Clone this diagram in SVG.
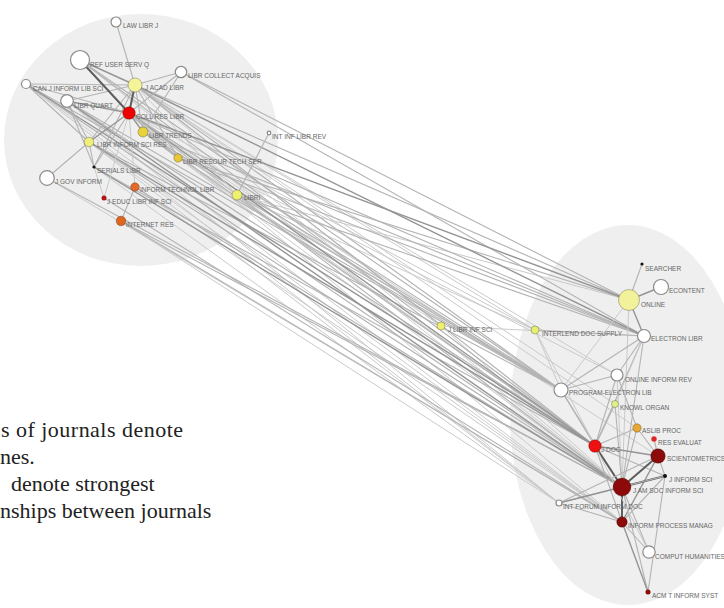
<svg xmlns="http://www.w3.org/2000/svg" width="724" height="608" viewBox="0 0 724 608">
<style>
.bg{fill:#efefef;stroke:none}
.e1{stroke:#cacaca;stroke-width:1;fill:none}
.e2{stroke:#b3b3b3;stroke-width:1.1;fill:none}
.e3{stroke:#959595;stroke-width:1.4;fill:none}
.e4{stroke:#5e5e5e;stroke-width:2;fill:none}
.nd{stroke:#8a8a8a;stroke-width:1.2}
.op{fill:#ffffff}
.cn{stroke:rgba(0,0,0,0.25);stroke-width:1}
.lb{font-family:"Liberation Sans",Arial,sans-serif;font-size:6.5px;fill:#666}
.tx{font-family:"Liberation Serif","Times New Roman",serif;font-size:22px;fill:#222}
</style>
<rect width="724" height="608" fill="#ffffff"/>
<g id="clusters">
<ellipse class="bg" cx="141" cy="140" rx="137" ry="126"/>
<ellipse class="bg" cx="628" cy="415" rx="118" ry="190"/>
</g>
<g id="connectors">
<line class="e1" x1="26" y1="84" x2="622" y2="522"/>
<line class="e1" x1="67" y1="101" x2="622" y2="522"/>
<line class="e1" x1="67" y1="101" x2="559" y2="503"/>
<line class="e1" x1="129" y1="113" x2="622" y2="522"/>
<line class="e1" x1="129" y1="113" x2="658" y2="456"/>
<line class="e1" x1="89" y1="142" x2="622" y2="522"/>
<line class="e1" x1="89" y1="142" x2="559" y2="503"/>
<line class="e1" x1="135" y1="85" x2="617" y2="375"/>
<line class="e1" x1="135" y1="85" x2="637" y2="428"/>
<line class="e1" x1="143" y1="132" x2="617" y2="375"/>
<line class="e1" x1="178" y1="158" x2="561" y2="390"/>
<line class="e1" x1="178" y1="158" x2="595" y2="446"/>
<line class="e1" x1="237" y1="195" x2="629" y2="300"/>
<line class="e1" x1="237" y1="195" x2="535" y2="330"/>
<line class="e1" x1="237" y1="195" x2="595" y2="446"/>
<line class="e1" x1="441" y1="326" x2="129" y2="113"/>
<line class="e1" x1="441" y1="326" x2="622" y2="487"/>
<line class="e1" x1="441" y1="326" x2="644" y2="336"/>
<line class="e1" x1="441" y1="326" x2="135" y2="85"/>
<line class="e1" x1="535" y1="330" x2="135" y2="85"/>
<line class="e1" x1="535" y1="330" x2="129" y2="113"/>
<line class="e1" x1="47" y1="178" x2="622" y2="522"/>
<line class="e1" x1="135" y1="187" x2="622" y2="522"/>
<line class="e1" x1="94" y1="167" x2="559" y2="503"/>
<line class="e1" x1="121" y1="221" x2="559" y2="503"/>
<line class="e1" x1="26" y1="84" x2="559" y2="503"/>
<line class="e1" x1="143" y1="132" x2="622" y2="487"/>
<line class="e1" x1="80" y1="60" x2="622" y2="487"/>
<line class="e1" x1="135" y1="85" x2="622" y2="487"/>
<line class="e1" x1="135" y1="85" x2="615" y2="404"/>
<line class="e2" x1="26" y1="84" x2="622" y2="487"/>
<line class="e2" x1="26" y1="84" x2="561" y2="390"/>
<line class="e2" x1="67" y1="101" x2="595" y2="446"/>
<line class="e2" x1="67" y1="101" x2="561" y2="390"/>
<line class="e2" x1="129" y1="113" x2="622" y2="487"/>
<line class="e2" x1="129" y1="113" x2="561" y2="390"/>
<line class="e2" x1="129" y1="113" x2="644" y2="336"/>
<line class="e2" x1="135" y1="85" x2="629" y2="300"/>
<line class="e2" x1="135" y1="85" x2="561" y2="390"/>
<line class="e2" x1="135" y1="85" x2="595" y2="446"/>
<line class="e2" x1="143" y1="132" x2="595" y2="446"/>
<line class="e2" x1="143" y1="132" x2="561" y2="390"/>
<line class="e2" x1="143" y1="132" x2="644" y2="336"/>
<line class="e2" x1="89" y1="142" x2="622" y2="487"/>
<line class="e2" x1="89" y1="142" x2="561" y2="390"/>
<line class="e2" x1="94" y1="167" x2="595" y2="446"/>
<line class="e2" x1="80" y1="60" x2="595" y2="446"/>
<line class="e2" x1="80" y1="60" x2="561" y2="390"/>
<line class="e2" x1="178" y1="158" x2="629" y2="300"/>
<line class="e2" x1="178" y1="158" x2="644" y2="336"/>
<line class="e2" x1="181" y1="72" x2="629" y2="300"/>
<line class="e2" x1="181" y1="72" x2="644" y2="336"/>
<line class="e2" x1="237" y1="195" x2="644" y2="336"/>
<line class="e2" x1="237" y1="195" x2="561" y2="390"/>
<line class="e2" x1="47" y1="178" x2="622" y2="487"/>
<line class="e2" x1="135" y1="187" x2="622" y2="487"/>
<line class="e2" x1="121" y1="221" x2="622" y2="487"/>
<line class="e2" x1="121" y1="221" x2="622" y2="522"/>
<line class="e2" x1="104" y1="198" x2="622" y2="522"/>
<line class="e3" x1="129" y1="113" x2="595" y2="446"/>
<line class="e3" x1="89" y1="142" x2="595" y2="446"/>
<line class="e3" x1="67" y1="101" x2="622" y2="487"/>
<line class="e3" x1="26" y1="84" x2="595" y2="446"/>
<line class="e3" x1="135" y1="85" x2="644" y2="336"/>
<line class="e3" x1="129" y1="113" x2="629" y2="300"/>
<line class="e3" x1="94" y1="167" x2="622" y2="487"/>
<line class="e2" x1="135" y1="85" x2="116" y2="22"/>
<line class="e3" x1="135" y1="85" x2="80" y2="60"/>
<line class="e2" x1="135" y1="85" x2="181" y2="72"/>
<line class="e2" x1="135" y1="85" x2="26" y2="84"/>
<line class="e2" x1="135" y1="85" x2="67" y2="101"/>
<line class="e4" x1="135" y1="85" x2="129" y2="113"/>
<line class="e2" x1="135" y1="85" x2="143" y2="132"/>
<line class="e2" x1="135" y1="85" x2="89" y2="142"/>
<line class="e2" x1="135" y1="85" x2="178" y2="158"/>
<line class="e2" x1="135" y1="85" x2="94" y2="167"/>
<line class="e4" x1="80" y1="60" x2="129" y2="113"/>
<line class="e2" x1="181" y1="72" x2="129" y2="113"/>
<line class="e2" x1="181" y1="72" x2="143" y2="132"/>
<line class="e3" x1="67" y1="101" x2="129" y2="113"/>
<line class="e2" x1="67" y1="101" x2="94" y2="167"/>
<line class="e2" x1="67" y1="101" x2="89" y2="142"/>
<line class="e2" x1="26" y1="84" x2="129" y2="113"/>
<line class="e2" x1="26" y1="84" x2="89" y2="142"/>
<line class="e3" x1="129" y1="113" x2="143" y2="132"/>
<line class="e3" x1="129" y1="113" x2="89" y2="142"/>
<line class="e2" x1="129" y1="113" x2="178" y2="158"/>
<line class="e2" x1="129" y1="113" x2="94" y2="167"/>
<line class="e1" x1="129" y1="113" x2="135" y2="187"/>
<line class="e2" x1="89" y1="142" x2="47" y2="178"/>
<line class="e2" x1="89" y1="142" x2="94" y2="167"/>
<line class="e2" x1="143" y1="132" x2="178" y2="158"/>
<line class="e1" x1="104" y1="198" x2="129" y2="113"/>
<line class="e2" x1="135" y1="187" x2="121" y2="221"/>
<line class="e1" x1="94" y1="167" x2="104" y2="198"/>
<line class="e2" x1="269" y1="133" x2="237" y2="195"/>
<line class="e1" x1="237" y1="195" x2="129" y2="113"/>
<line class="e1" x1="237" y1="195" x2="135" y2="85"/>
<line class="e2" x1="642" y1="264" x2="629" y2="300"/>
<line class="e3" x1="629" y1="300" x2="661" y2="287"/>
<line class="e3" x1="629" y1="300" x2="644" y2="336"/>
<line class="e1" x1="629" y1="300" x2="622" y2="487"/>
<line class="e1" x1="629" y1="300" x2="561" y2="390"/>
<line class="e2" x1="644" y1="336" x2="561" y2="390"/>
<line class="e2" x1="644" y1="336" x2="617" y2="375"/>
<line class="e2" x1="644" y1="336" x2="535" y2="330"/>
<line class="e2" x1="644" y1="336" x2="595" y2="446"/>
<line class="e2" x1="644" y1="336" x2="622" y2="487"/>
<line class="e1" x1="644" y1="336" x2="615" y2="404"/>
<line class="e2" x1="617" y1="375" x2="561" y2="390"/>
<line class="e2" x1="617" y1="375" x2="595" y2="446"/>
<line class="e2" x1="617" y1="375" x2="637" y2="428"/>
<line class="e1" x1="617" y1="375" x2="622" y2="487"/>
<line class="e2" x1="561" y1="390" x2="595" y2="446"/>
<line class="e2" x1="561" y1="390" x2="622" y2="487"/>
<line class="e2" x1="615" y1="404" x2="595" y2="446"/>
<line class="e2" x1="615" y1="404" x2="622" y2="487"/>
<line class="e2" x1="637" y1="428" x2="595" y2="446"/>
<line class="e2" x1="637" y1="428" x2="622" y2="487"/>
<line class="e2" x1="637" y1="428" x2="658" y2="456"/>
<line class="e2" x1="654" y1="439" x2="658" y2="456"/>
<line class="e4" x1="595" y1="446" x2="622" y2="487"/>
<line class="e3" x1="595" y1="446" x2="658" y2="456"/>
<line class="e2" x1="595" y1="446" x2="665" y2="476"/>
<line class="e2" x1="595" y1="446" x2="622" y2="522"/>
<line class="e4" x1="658" y1="456" x2="622" y2="487"/>
<line class="e2" x1="658" y1="456" x2="665" y2="476"/>
<line class="e3" x1="658" y1="456" x2="622" y2="522"/>
<line class="e4" x1="665" y1="476" x2="622" y2="487"/>
<line class="e2" x1="665" y1="476" x2="559" y2="503"/>
<line class="e2" x1="665" y1="476" x2="648" y2="592"/>
<line class="e2" x1="665" y1="476" x2="622" y2="522"/>
<line class="e3" x1="622" y1="487" x2="559" y2="503"/>
<line class="e4" x1="622" y1="487" x2="622" y2="522"/>
<line class="e2" x1="622" y1="487" x2="648" y2="592"/>
<line class="e2" x1="622" y1="487" x2="649" y2="552"/>
<line class="e2" x1="559" y1="503" x2="622" y2="522"/>
<line class="e2" x1="559" y1="503" x2="658" y2="456"/>
<line class="e3" x1="622" y1="522" x2="648" y2="592"/>
<line class="e2" x1="622" y1="522" x2="649" y2="552"/>
<line class="e1" x1="595" y1="446" x2="649" y2="552"/>
<line class="e1" x1="535" y1="330" x2="595" y2="446"/>
<line class="e1" x1="535" y1="330" x2="561" y2="390"/>
</g>
<g id="n-law-libr-j"><circle class="nd op" cx="116" cy="22" r="5"/><text class="lb" x="123" y="28">LAW LIBR J</text></g>
<g id="n-ref-user-serv-q"><circle class="nd op" cx="80" cy="60" r="9.5"/><text class="lb" x="90" y="67">REF USER SERV Q</text></g>
<g id="n-libr-collect-acquis"><circle class="nd op" cx="181" cy="72" r="5.7"/><text class="lb" x="188" y="78">LIBR COLLECT ACQUIS</text></g>
<g id="n-can-j-inform-lib-sci"><circle class="nd op" cx="26" cy="84" r="4.5"/><text class="lb" x="33" y="91">CAN J INFORM LIB SCI</text></g>
<g id="n-j-acad-libr"><circle class="cn" fill="#f4f49a" cx="135" cy="85" r="7"/><text class="lb" x="145" y="90">J ACAD LIBR</text></g>
<g id="n-libr-quart"><circle class="nd op" cx="67" cy="101" r="6.3"/><text class="lb" x="74" y="108">LIBR QUART</text></g>
<g id="n-coll-res-libr"><circle class="cn" fill="#ee0000" cx="129" cy="113" r="6.3"/><text class="lb" x="136" y="119">COLL RES LIBR</text></g>
<g id="n-libr-trends"><circle class="cn" fill="#e8d23c" cx="143" cy="132" r="5"/><text class="lb" x="149" y="138">LIBR TRENDS</text></g>
<g id="n-libr-inform-sci-res"><circle class="cn" fill="#eef07a" cx="89" cy="142" r="4.8"/><text class="lb" x="97" y="147">LIBR INFORM SCI RES</text></g>
<g id="n-libr-resour-tech-ser"><circle class="cn" fill="#e8c83a" cx="178" cy="158" r="4.2"/><text class="lb" x="183" y="164">LIBR RESOUR TECH SER</text></g>
<g id="n-int-inf-libr-rev"><circle class="nd op" cx="269" cy="133" r="1.8"/><text class="lb" x="272" y="139">INT INF LIBR REV</text></g>
<g id="n-j-gov-inform"><circle class="nd op" cx="47" cy="178" r="7.3"/><text class="lb" x="55" y="184">J GOV INFORM</text></g>
<g id="n-serials-libr"><circle fill="#111" cx="94" cy="167" r="1.6"/><text class="lb" x="97" y="173">SERIALS LIBR</text></g>
<g id="n-inform-technol-libr"><circle class="cn" fill="#e8682a" cx="135" cy="187" r="4.3"/><text class="lb" x="140" y="192">INFORM TECHNOL LIBR</text></g>
<g id="n-j-educ-libr-inf-sci"><circle fill="#b01515" cx="104" cy="198" r="2.5"/><text class="lb" x="107" y="204">J EDUC LIBR INF SCI</text></g>
<g id="n-internet-res"><circle class="cn" fill="#e0661f" cx="121" cy="221" r="4.8"/><text class="lb" x="126" y="227">INTERNET RES</text></g>
<g id="n-libri"><circle class="cn" fill="#eef070" cx="237" cy="195" r="5"/><text class="lb" x="244" y="200">LIBRI</text></g>
<g id="n-j-libr-inf-sci"><circle class="cn" fill="#eef070" cx="441" cy="326" r="4"/><text class="lb" x="448" y="332">J LIBR INF SCI</text></g>
<g id="n-interlend-doc-supply"><circle class="cn" fill="#e6f070" cx="535" cy="330" r="4"/><text class="lb" x="542" y="336">INTERLEND DOC SUPPLY</text></g>
<g id="n-searcher"><circle fill="#111" cx="642" cy="264" r="1.6"/><text class="lb" x="645" y="271">SEARCHER</text></g>
<g id="n-online"><circle class="cn" fill="#f2f29a" cx="629" cy="300" r="10.5"/><text class="lb" x="641" y="307">ONLINE</text></g>
<g id="n-econtent"><circle class="nd op" cx="661" cy="287" r="7.5"/><text class="lb" x="669" y="293">ECONTENT</text></g>
<g id="n-electron-libr"><circle class="nd op" cx="644" cy="336" r="6.5"/><text class="lb" x="651" y="341">ELECTRON LIBR</text></g>
<g id="n-online-inform-rev"><circle class="nd op" cx="617" cy="375" r="6"/><text class="lb" x="625" y="382">ONLINE INFORM REV</text></g>
<g id="n-program-electron-lib"><circle class="nd op" cx="561" cy="390" r="7"/><text class="lb" x="569" y="395">PROGRAM-ELECTRON LIB</text></g>
<g id="n-knowl-organ"><circle class="cn" fill="#dff08a" cx="615" cy="404" r="3.5"/><text class="lb" x="620" y="410">KNOWL ORGAN</text></g>
<g id="n-aslib-proc"><circle class="cn" fill="#e8a832" cx="637" cy="428" r="4.2"/><text class="lb" x="642" y="433">ASLIB PROC</text></g>
<g id="n-res-evaluat"><circle fill="#e02828" cx="654" cy="439" r="2.7"/><text class="lb" x="658" y="445">RES EVALUAT</text></g>
<g id="n-j-doc"><circle class="cn" fill="#ee1111" cx="595" cy="446" r="6.3"/><text class="lb" x="601" y="452">J DOC</text></g>
<g id="n-scientometrics"><circle class="cn" fill="#8c0a0a" cx="658" cy="456" r="7.3"/><text class="lb" x="667" y="461">SCIENTOMETRICS</text></g>
<g id="n-j-inform-sci"><circle fill="#111" cx="665" cy="476" r="2"/><text class="lb" x="669" y="482">J INFORM SCI</text></g>
<g id="n-j-am-soc-inform-sci"><circle class="cn" fill="#8c0a0a" cx="622" cy="487" r="9"/><text class="lb" x="633" y="493">J AM SOC INFORM SCI</text></g>
<g id="n-int-forum-inform-doc"><circle class="nd op" cx="559" cy="503" r="3"/><text class="lb" x="563" y="509">INT FORUM INFORM DOC</text></g>
<g id="n-inform-process-manag"><circle class="cn" fill="#8c0a0a" cx="622" cy="522" r="5.3"/><text class="lb" x="628" y="528">INFORM PROCESS MANAG</text></g>
<g id="n-comput-humanities"><circle class="nd op" cx="649" cy="552" r="6.2"/><text class="lb" x="655" y="559">COMPUT HUMANITIES</text></g>
<g id="n-acm-t-inform-syst"><circle fill="#8c0a0a" cx="648" cy="592" r="2.5"/><text class="lb" x="652" y="598">ACM T INFORM SYST</text></g>
<g id="legend-text">
<text class="tx" x="1" y="437" textLength="182" lengthAdjust="spacing">s of journals denote</text>
<text class="tx" x="0" y="464">nes.</text>
<text class="tx" x="11" y="491">denote strongest</text>
<text class="tx" x="0" y="518">nships between journals</text>
</g>
</svg>
